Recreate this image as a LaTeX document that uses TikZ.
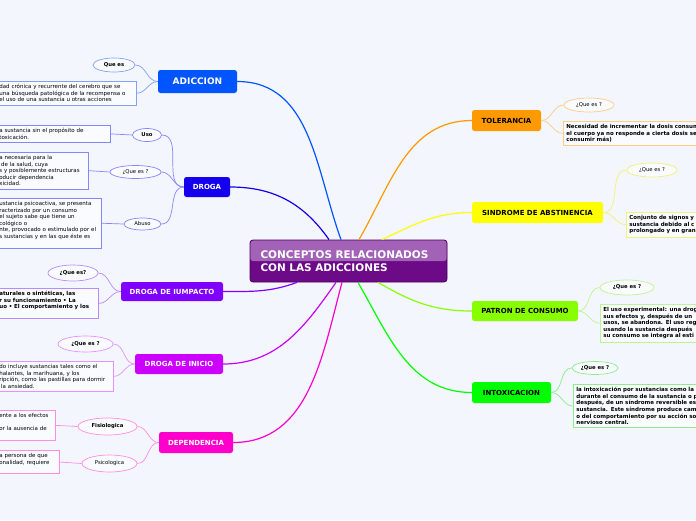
\documentclass[tikz,border=0pt]{standalone}
\usepackage{fontspec}
\setmainfont{DejaVu Sans}
\usetikzlibrary{shapes.geometric}

\definecolor{canvas}{HTML}{F3F6FD}
\definecolor{adicc}{HTML}{0055FF}
\definecolor{adiccl}{HTML}{7FA2F5}
\definecolor{drog}{HTML}{1400EE}
\definecolor{drogl}{HTML}{8585FF}
\definecolor{impac}{HTML}{8000FF}
\definecolor{impacl}{HTML}{B98AFF}
\definecolor{inic}{HTML}{CC00FF}
\definecolor{inicl}{HTML}{E592FF}
\definecolor{depen}{HTML}{FF00CC}
\definecolor{depenl}{HTML}{FF8CE3}
\definecolor{toler}{HTML}{FF9900}
\definecolor{tolerl}{HTML}{FFCB85}
\definecolor{sindr}{HTML}{FFFF00}
\definecolor{sindrl}{HTML}{F2F27A}
\definecolor{patro}{HTML}{88FF00}
\definecolor{patrol}{HTML}{BBF590}
\definecolor{intox}{HTML}{00FF00}
\definecolor{intoxl}{HTML}{88F088}
\definecolor{coretop}{HTML}{A262B6}
\definecolor{corebot}{HTML}{6C0A88}
\definecolor{coreline}{HTML}{4A005E}

\begin{document}
\begin{tikzpicture}[
  x=1pt,y=-1pt,
  core/.style={rounded corners=3pt, draw=coreline, line width=0.8pt, fill=corebot,
               path picture={\fill[coretop] (path picture bounding box.north west)
                 rectangle (path picture bounding box.east);},
               text=white, align=left, inner sep=0pt, text width=176pt,
               font=\bfseries\fontsize{10.5}{13}\selectfont,
               minimum width=197pt, minimum height=42pt},
  topic/.style={rounded corners=2.5pt, inner sep=0pt, font=\bfseries\fontsize{7}{8}\selectfont},
  bubble/.style={ellipse, draw, line width=0.7pt, fill=white!55!canvas, inner sep=0pt,
                 font=\fontsize{5.3}{6}\selectfont},
  bbubble/.style={bubble, font=\bfseries\fontsize{5.3}{6}\selectfont},
  note/.style={draw, line width=0.7pt, fill=white!55!canvas, align=left,
               inner xsep=3pt, inner ysep=3pt, anchor=north west,
               font=\fontsize{5.5}{6.6}\selectfont},
  bnote/.style={note, font=\bfseries\fontsize{5.5}{6.6}\selectfont},
  trunk/.style={line width=1.2pt},
  twig/.style={line width=0.7pt}
]
  \useasboundingbox (0,0) rectangle (696,520);
  \fill[canvas] (0,0) rectangle (696,520);

  \node[core] (core) at (348.5,261) {CONCEPTOS RELACIONADOS\\CON LAS ADICCIONES};

  % left branches
  \node[topic, fill=adicc, text=white, font=\bfseries\fontsize{9}{10}\selectfont,
        minimum width=79pt, minimum height=23pt] (adiccion) at (197.5,81.5) {ADICCION};
  \node[bbubble, draw=adiccl, minimum width=42pt, minimum height=14pt] (adqe) at (114,65) {Que es};
  \node[note, draw=adiccl, text width=134pt] (adtxt) at (-4,81)
    {dad crónica y recurrente del cerebro que se\\una búsqueda patológica de la recompensa o\\el uso de una sustancia u otras acciones};

  \node[topic, fill=drog, text=white, minimum width=46pt, minimum height=20pt] (droga) at (207,187) {DROGA};
  \node[bbubble, draw=drogl, minimum width=29pt, minimum height=13pt] (uso) at (147,135) {Uso};
  \node[note, draw=drogl, text width=108pt] (usotxt) at (-4,125)
    {a sustancia sin el propósito de\\toxicación.};
  \node[bubble, draw=drogl, minimum width=51pt, minimum height=13pt] (drqe) at (135.5,172) {¿Que es ?};
  \node[note, draw=drogl, text width=86pt] (drqetxt) at (-4,152)
    {a necesaria para la\\\ de la salud, cuya\\s y posiblemente estructuras\\oducir dependencia\\xicidad.};
  \node[bubble, draw=drogl, minimum width=37pt, minimum height=12pt] (abuso) at (142.5,224) {Abuso};
  \node[note, draw=drogl, text width=99pt] (abtxt) at (-4,198)
    {ustancia psicoactiva, se presenta\\racterizado por un consumo\\el sujeto sabe que tiene un\\cológico o\\nte, provocado o estimulado por el\\s sustancias y en las que éste es\\\mbox{}};

  \node[topic, fill=impac, text=white, minimum width=102pt, minimum height=19pt] (impacto) at (172,291.5) {DROGA DE IUMPACTO};
  \node[bbubble, draw=impacl, minimum width=50pt, minimum height=16pt] (impqe) at (73,273) {¿Que es?};
  \node[bnote, draw=impacl, text width=96pt] (imptxt) at (-4,288)
    {aturales o sintéticas, las\\r su funcionamiento • La\\uo • El comportamiento y los\\\mbox{}};

  \node[topic, fill=inic, text=white, minimum width=88pt, minimum height=20pt] (inicio) at (179,364) {DROGA DE INICIO};
  \node[bbubble, draw=inicl, minimum width=55pt, minimum height=16pt] (iniqe) at (85.5,344) {¿Que es ?};
  \node[note, draw=inicl, text width=111pt] (initxt) at (-4,361)
    {do incluye sustancias tales como el\\halantes, la marihuana, y los\\ripción, como las pastillas para dormir\\\ la ansiedad.};

  \node[topic, fill=depen, text=white, minimum width=74pt, minimum height=21pt] (dependencia) at (196,442.5) {DEPENDENCIA};
  \node[bbubble, draw=depenl, minimum width=59pt, minimum height=17pt] (fisio) at (107.5,426.5) {Fisiologica};
  \node[note, draw=depenl, text width=53pt] (fisiotxt) at (-4,410)
    {ente a los efectos\\\mbox{}\\or la ausencia de\\\mbox{}};
  \node[bubble, draw=depenl, minimum width=55pt, minimum height=17pt] (psico) at (109.5,463.5) {Psicologica};
  \node[note, draw=depenl, text width=57pt] (psicotxt) at (-4,450)
    {a persona de que\\onalidad, requiere\\\mbox{}};

  % right branches
  \node[topic, fill=toler, minimum width=69pt, minimum height=21pt] (tolerancia) at (506.5,120.5) {TOLERANCIA};
  \node[bubble, draw=tolerl, minimum width=50pt, minimum height=14pt] (tolqe) at (589,105) {¿Que es ?};
  \node[bnote, draw=tolerl, text width=200pt] (toltxt) at (563,121)
    {Necesidad de incrementar la dosis consum\\el cuerpo ya no responde a cierta dosis se\\consumir más)};

  \node[topic, fill=sindr, minimum width=131pt, minimum height=21pt] (sindrome) at (537.5,212.5) {SINDROME DE ABSTINENCIA};
  \node[bubble, draw=sindrl, minimum width=50pt, minimum height=14pt] (sinqe) at (652,170) {¿Que es ?};
  \node[bnote, draw=sindrl, text width=200pt] (sintxt) at (626,212)
    {Conjunto de signos y\\sustancia debido al c\\prolongado y en gran};

  \node[topic, fill=patro, minimum width=106pt, minimum height=20pt] (patron) at (525,311) {PATRON DE CONSUMO};
  \node[bbubble, draw=patrol, minimum width=54pt, minimum height=15pt] (patqe) at (627,287.5) {¿Que es ?};
  \node[bnote, draw=patrol, text width=200pt] (pattxt) at (600,304)
    {El uso experimental: una drog\\sus efectos y, después de un\\usos, se abandona. El uso reg\\usando la sustancia después\\su consumo se integra al esti};

  \node[topic, fill=intox, minimum width=79pt, minimum height=21pt] (intoxicacion) at (511.5,392.5) {INTOXICACION};
  \node[bbubble, draw=intoxl, minimum width=46pt, minimum height=13pt] (intqe) at (595,368) {¿Que es ?};
  \node[bnote, draw=intoxl, text width=200pt] (inttxt) at (573,384)
    {la intoxicación por sustancias como la\\durante el consumo de la sustancia o p\\después, de un síndrome reversible es\\sustancia. Este síndrome produce cam\\o del comportamiento por su acción so\\nervioso central.};

  \coordinate (cad) at ([xshift=-7.5pt]core.north);
  \coordinate (cdr) at ([xshift=-19.5pt]core.north);
  \coordinate (ctol) at ([xshift=10.5pt]core.north);
  \coordinate (csin) at ([xshift=33.5pt]core.north);
  \coordinate (cimp) at ([xshift=-51.5pt]core.south);
  \coordinate (cini) at ([xshift=-12.5pt]core.south);
  \coordinate (cdep) at ([xshift=-6.5pt]core.south);
  \coordinate (cint) at ([xshift=9.5pt]core.south);
  \coordinate (cpat) at ([xshift=29.5pt]core.south);

  \draw[trunk, adicc] (adiccion.east) to[out=0, in=110] (cad);
  \draw[trunk, drog] (droga.east) to[out=0, in=125] (cdr);
  \draw[trunk, impac] (impacto.east) to[out=0, in=200] (cimp);
  \draw[trunk, inic] (inicio.east) to[out=0, in=235] (cini);
  \draw[trunk, depen] (dependencia.east) to[out=0, in=255] (cdep);
  \draw[trunk, toler] (tolerancia.west) to[out=180, in=60] (ctol);
  \draw[trunk, sindr] (sindrome.west) to[out=180, in=25] (csin);
  \draw[trunk, patro] (patron.west) to[out=180, in=330] (cpat);
  \draw[trunk, intox] (intoxicacion.west) to[out=180, in=300] (cint);

  \draw[twig, adiccl] (adiccion.west) to[out=180, in=0] (adqe.east);
  \draw[twig, adiccl] (adiccion.west) to[out=180, in=0] (adtxt.east);
  \draw[twig, drogl] (droga.west) to[out=180, in=0] (uso.east);
  \draw[twig, drogl] (droga.west) to[out=180, in=0] (drqe.east);
  \draw[twig, drogl] (droga.west) to[out=180, in=0] (abuso.east);
  \draw[twig, drogl] (usotxt.east) -- (uso.west);
  \draw[twig, drogl] (drqetxt.east) -- (drqe.west);
  \draw[twig, drogl] (abtxt.east) -- (abuso.west);
  \draw[twig, impacl] (impacto.west) to[out=180, in=0] (impqe.east);
  \draw[twig, impacl] (impacto.west) to[out=180, in=0] (imptxt.east);
  \draw[twig, inicl] (inicio.west) to[out=180, in=0] (iniqe.east);
  \draw[twig, inicl] (inicio.west) to[out=180, in=0] (initxt.east);
  \draw[twig, depenl] (dependencia.west) to[out=180, in=0] (fisio.east);
  \draw[twig, depenl] (dependencia.west) to[out=180, in=0] (psico.east);
  \draw[twig, depenl] (fisiotxt.east) -- (fisio.west);
  \draw[twig, depenl] (psicotxt.east) -- (psico.west);

  \draw[twig, tolerl] (tolerancia.east) to[out=0, in=180] (tolqe.west);
  \draw[twig, tolerl] (tolerancia.east) to[out=0, in=180] (toltxt.west);
  \draw[twig, sindrl] (sindrome.east) to[out=0, in=180] (sinqe.west);
  \draw[twig, sindrl] (sindrome.east) to[out=0, in=180] (sintxt.west);
  \draw[twig, patrol] (patron.east) to[out=0, in=180] (patqe.west);
  \draw[twig, patrol] (patron.east) to[out=0, in=180] (pattxt.west);
  \draw[twig, intoxl] (intoxicacion.east) to[out=0, in=180] (intqe.west);
  \draw[twig, intoxl] (intoxicacion.east) to[out=0, in=180] (inttxt.west);
\end{tikzpicture}
\end{document}
